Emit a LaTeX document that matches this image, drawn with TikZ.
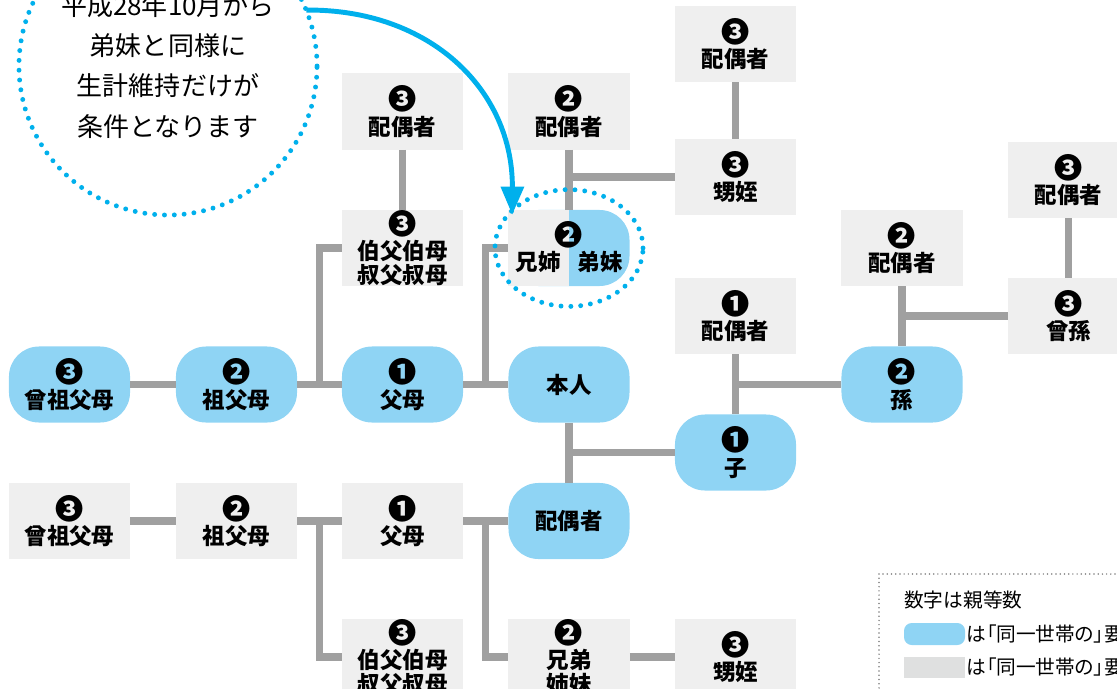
\documentclass[tikz,border=0pt]{standalone}
\usepackage{fontspec}
\newfontfamily\jpfont{Noto Sans CJK JP}
\newfontfamily\jpkeyfont{Noto Sans CJK JP}[RawFeature=+palt]
\usetikzlibrary{positioning,calc,arrows.meta}
\usepackage{xcolor}
\definecolor{kinblue}{HTML}{8FD4F4}
\definecolor{kingray}{HTML}{EFEFEF}
\definecolor{linkgray}{HTML}{A0A0A0}
\definecolor{noteblue}{HTML}{00B0EC}
\definecolor{keygray}{HTML}{DFE0E0}
\newcommand\degno[1]{{\fontsize{20}{17}\selectfont#1}}

\begin{document}
\begin{tikzpicture}[x=0.025cm,y=-0.025cm,
    kin/.style={minimum width=3.025cm, minimum height=1.9cm, inner sep=0pt, align=center,
      font=\jpfont\bfseries\fontsize{16}{17}\selectfont},
    samehouse/.style={kin, fill=kinblue, rounded corners=0.75cm},
    otherhouse/.style={kin, fill=kingray},
    link/.style={linkgray, line width=5pt},
    bluedots/.style={noteblue, line width=3.5pt, line cap=round, dash pattern=on 0pt off 7pt}]
    \useasboundingbox (0,0) rectangle (1117,689);
    % upper side
    \node[samehouse] (ggpU) at (69.5,384.5) {\degno{❸}\\[1pt]曾祖父母};
    \node[samehouse] (gpU) at (236.5,384.5) {\degno{❷}\\[1pt]祖父母};
    \node[samehouse] (parU) at (402.5,384.5) {\degno{❶}\\[1pt]父母};
    \node[samehouse] (self) at (569,384.5) {本人};
    \node[otherhouse] (uncleU) at (402.5,248) {\degno{❸}\\[1pt]伯父伯母\\叔父叔母};
    \node[otherhouse] (uncleUsp) at (402.5,111.5) {\degno{❸}\\[1pt]配偶者};
    \node[otherhouse] (sibUsp) at (569,111.5) {\degno{❷}\\[1pt]配偶者};
    \node[otherhouse] (nephU) at (735.5,177) {\degno{❸}\\[1pt]甥姪};
    \node[otherhouse] (nephUsp) at (735.5,44) {\degno{❸}\\[1pt]配偶者};
    \node[samehouse] (sibU) at (569,248) {};
    \fill[kingray] (sibU.south west) rectangle (sibU.north);
    \node[font=\jpfont\bfseries\fontsize{16}{17}\selectfont] (sibUnum) at (569,235) {\degno{❷}};
    \node[font=\jpfont\bfseries\fontsize{16}{17}\selectfont] (sibUold) at (538,262) {兄姉};
    \node[font=\jpfont\bfseries\fontsize{16}{17}\selectfont] (sibUyoung) at (600,262) {弟妹};
    % descendants
    \node[otherhouse] (childsp) at (735.5,316) {\degno{❶}\\[1pt]配偶者};
    \node[samehouse] (child) at (735.5,452.5) {\degno{❶}\\[1pt]子};
    \node[samehouse] (gchild) at (902,384.5) {\degno{❷}\\[1pt]孫};
    \node[otherhouse] (gchildsp) at (902,248) {\degno{❷}\\[1pt]配偶者};
    \node[otherhouse] (ggchild) at (1068.5,316) {\degno{❸}\\[1pt]曾孫};
    \node[otherhouse] (ggchildsp) at (1068.5,180) {\degno{❸}\\[1pt]配偶者};
    % spouse side
    \node[otherhouse] (ggpL) at (69.5,521) {\degno{❸}\\[1pt]曾祖父母};
    \node[otherhouse] (gpL) at (236.5,521) {\degno{❷}\\[1pt]祖父母};
    \node[otherhouse] (parL) at (402.5,521) {\degno{❶}\\[1pt]父母};
    \node[samehouse] (spouse) at (569,521) {配偶者};
    \node[otherhouse] (uncleL) at (402.5,657) {\degno{❸}\\[1pt]伯父伯母\\叔父叔母};
    \node[otherhouse] (sibL) at (569,657) {\degno{❷}\\[1pt]兄弟\\姉妹};
    \node[otherhouse] (nephL) at (735.5,657) {\degno{❸}\\[1pt]甥姪};

    \draw[link] (ggpU) -- (gpU);
    \draw[link] (gpU) -- (parU);
    \draw[link] (parU) -- (self);
    \draw[link] ($(gpU.east)!.5!(parU.west)$) |- (uncleU.west);
    \draw[link] ($(parU.east)!.5!(self.west)$) |- (sibU.west);
    \draw[link] (uncleUsp) -- (uncleU);
    \draw[link] (sibUsp) -- (sibU);
    \draw[link] (sibUsp.south |- nephU.west) -- (nephU.west);
    \draw[link] (nephUsp) -- (nephU);
    \draw[link] (self) -- (spouse);
    \draw[link] (self.south |- child.west) -- (child.west);
    \draw[link] (childsp) -- (child);
    \draw[link] (childsp.south |- gchild.west) -- (gchild.west);
    \draw[link] (gchildsp) -- (gchild);
    \draw[link] (gchildsp.south |- ggchild.west) -- (ggchild.west);
    \draw[link] (ggchildsp) -- (ggchild);
    \draw[link] (ggpL) -- (gpL);
    \draw[link] (gpL) -- (parL);
    \draw[link] (parL) -- (spouse);
    \draw[link] ($(gpL.east)!.5!(parL.west)$) |- (uncleL.west);
    \draw[link] ($(parL.east)!.5!(spouse.west)$) |- (sibL.west);
    \draw[link] (sibL) -- (nephL);

    % note bubble
    \node[circle, minimum size=7.45cm, inner sep=0pt, align=center,
      font=\jpfont\fontsize{18.5}{28.5}\selectfont] (note) at (168,66)
      {平成28年10月から\\弟妹と同様に\\生計維持だけが\\条件となります};
    \draw[bluedots] (note) circle[radius=3.725cm];
    \draw[bluedots] (sibU) ellipse[x radius=1.85cm, y radius=1.46cm];
    \draw[noteblue, line width=3.5pt, -{Triangle[length=20pt,width=16pt]}]
      (note.22) .. controls (430,9) and (513,90) .. ($(sibU.north west)+(4,5)$);

    % legend
    \draw[gray, line width=1.2pt, dash pattern=on 0pt off 3pt, line cap=round] (879,574) rectangle (1140,720);
    \node[anchor=west, inner sep=0pt, font=\jpkeyfont\fontsize{14}{16}\selectfont] (keytitle) at (904,600) {数字は親等数};
    \node[fill=kinblue, rounded corners=5.5pt, minimum width=1.525cm, minimum height=0.55cm, inner sep=0pt] (keyblue) at (934.5,634) {};
    \node[anchor=west, inner sep=1pt, font=\jpkeyfont\fontsize{14}{16}\selectfont] (keybluetext) at (keyblue.east) {は「同一世帯の」要件};
    \node[fill=keygray, minimum width=1.525cm, minimum height=0.525cm, inner sep=0pt] (keygray) at (934.5,667.5) {};
    \node[anchor=west, inner sep=1pt, font=\jpkeyfont\fontsize{14}{16}\selectfont] (keygraytext) at (keygray.east) {は「同一世帯の」要件};
\end{tikzpicture}
\end{document}
